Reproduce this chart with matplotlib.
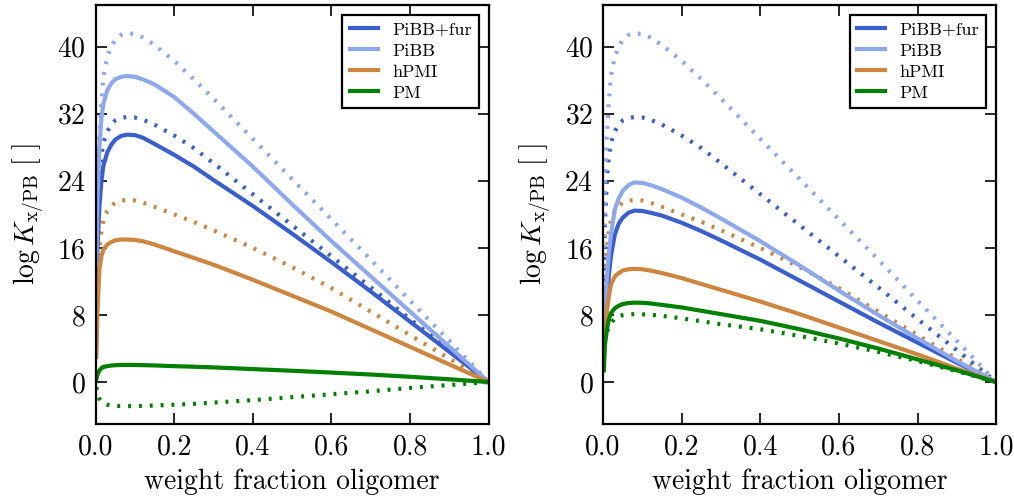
import numpy as np
import matplotlib
matplotlib.use("Agg")
import matplotlib.pyplot as plt

plt.rcParams['font.family'] = 'cmr10'
plt.rcParams['mathtext.fontset'] = 'cm'
plt.rcParams['axes.formatter.use_mathtext'] = True

# weight fraction grid
w = [0.002, 0.005, 0.01, 0.015, 0.02, 0.03, 0.04, 0.05, 0.065, 0.08, 0.1, 0.12,
     0.15, 0.2, 0.25, 0.3, 0.4, 0.5, 0.6, 0.7, 0.8, 0.9, 1.0]

# dotted curves (same in both panels)
pibbfur_dot = [12, 19, 24.5, 27, 28.5, 29.9, 30.7, 31.2, 31.5, 31.6, 31.55, 31.3,
               30.7, 29.4, 27.9, 26.1, 22.4, 18.7, 15.0, 11.3, 7.5, 3.8, 0]
pibb_dot = [16, 24, 29.5, 33.5, 36.5, 38.8, 40.0, 40.8, 41.4, 41.6, 41.5, 41.1,
            40.2, 38.3, 36.1, 33.8, 29.0, 24.2, 19.4, 14.6, 9.7, 4.9, 0]
hpmi_dot = [6, 12, 16, 18, 19.3, 20.4, 21.0, 21.4, 21.65, 21.7, 21.65, 21.4,
            20.9, 20.0, 19.1, 18.1, 16.0, 13.7, 11.2, 8.4, 5.6, 2.8, 0]

# left panel
pibbfur_a = [11, 16, 21, 24, 25.8, 27.4, 28.3, 28.9, 29.35, 29.5, 29.45, 29.15,
             28.4, 27.1, 25.7, 24.1, 21.0, 17.7, 14.3, 10.8, 7.2, 3.6, 0]
pibb_a = [14, 22, 28, 31.5, 33.2, 34.8, 35.6, 36.1, 36.4, 36.5, 36.4, 36.1,
          35.5, 34.0, 32.0, 29.9, 25.7, 21.2, 16.8, 12.6, 8.4, 4.2, 0]
hpmi_a = [3, 8.5, 13.5, 15.0, 15.8, 16.4, 16.7, 16.9, 17.0, 17.0, 16.95, 16.8,
          16.4, 15.6, 14.8, 14.0, 12.2, 10.3, 8.4, 6.3, 4.2, 2.1, 0]
pm_a = [0.3, 0.9, 1.4, 1.65, 1.8, 1.9, 1.97, 2.01, 2.04, 2.05, 2.04, 2.02,
        1.98, 1.9, 1.83, 1.75, 1.55, 1.35, 1.13, 0.9, 0.63, 0.33, 0]
pm_dot_a = [-0.6, -1.4, -2.0, -2.35, -2.55, -2.7, -2.78, -2.83, -2.86, -2.87, -2.86, -2.84,
            -2.8, -2.7, -2.6, -2.45, -2.15, -1.8, -1.45, -1.1, -0.7, -0.35, 0]

# right panel
pibbfur_b = [4, 8, 10, 12.8, 15.0, 17.6, 18.9, 19.6, 20.2, 20.45, 20.4, 20.2,
             19.85, 19.0, 18.0, 16.9, 14.6, 12.1, 9.6, 7.1, 4.7, 2.3, 0]
pibb_b = [5, 9, 12.5, 15.5, 17.5, 20.6, 21.9, 22.8, 23.5, 23.8, 23.75, 23.5,
          23.0, 22.0, 20.8, 19.5, 16.8, 13.9, 10.9, 8.0, 5.2, 2.5, 0]
hpmi_b = [3.5, 6, 8.5, 10.3, 11.6, 12.6, 13.0, 13.3, 13.45, 13.5, 13.45, 13.3,
          13.0, 12.4, 11.7, 11.0, 9.6, 8.1, 6.5, 4.9, 3.3, 1.6, 0]
pm_b = [1.4, 4.5, 6.3, 7.5, 8.2, 8.8, 9.1, 9.3, 9.43, 9.47, 9.45, 9.38,
        9.2, 8.9, 8.5, 8.1, 7.3, 6.3, 5.2, 4.0, 2.7, 1.4, 0]
pm_dot_b = [3.5, 5.0, 6.0, 6.6, 7.0, 7.6, 7.85, 7.98, 8.07, 8.1, 8.08, 8.03,
            7.9, 7.6, 7.25, 6.9, 6.3, 5.5, 4.6, 3.6, 2.5, 1.3, 0]

labels = ['PiBB+fur', 'PiBB', 'hPMI', 'PM']
colors = ['#3a5fcd', '#8ea8ec', '#cd853f', '#008000']

panels = [
    ([pibbfur_a, pibb_a, hpmi_a, pm_a], [pibbfur_dot, pibb_dot, hpmi_dot, pm_dot_a]),
    ([pibbfur_b, pibb_b, hpmi_b, pm_b], [pibbfur_dot, pibb_dot, hpmi_dot, pm_dot_b]),
]

fig = plt.figure(figsize=(10.14, 5.0), dpi=100)
lefts = [0.0942, 0.5947]
dots = (0, (0.7, 1.9))

for left, (solid, dotted) in zip(lefts, panels):
    ax = fig.add_axes([left, 0.152, 0.3878, 0.8386])
    for ys, c in zip(dotted, colors):
        ax.plot(w, ys, color=c, lw=3, linestyle=dots)
    for ys, c, lab in zip(solid, colors, labels):
        ax.plot(w, ys, color=c, lw=3, label=lab)
    ax.set_xlim(0, 1)
    ax.set_ylim(-5, 45)
    ax.set_xticks([0.0, 0.2, 0.4, 0.6, 0.8, 1.0])
    ax.set_yticks([0, 8, 16, 24, 32, 40])
    ax.xaxis.set_major_formatter(matplotlib.ticker.FormatStrFormatter('%.1f'))
    ax.tick_params(direction='in', length=8, width=1.2, top=True, right=True,
                   labelsize=20, pad=7)
    for s in ax.spines.values():
        s.set_linewidth(1.6)
    ax.set_xlabel('weight fraction oligomer', fontsize=20, labelpad=6)
    ax.set_ylabel(r'$\log K_{\mathrm{x/PB}}\ [\ ]$', fontsize=20, labelpad=8)
    leg = ax.legend(loc='upper right', fontsize=13, handlelength=1.55,
                    handletextpad=0.8, labelspacing=0.3, borderaxespad=0.55,
                    borderpad=0.4, fancybox=False, framealpha=1)
    leg.get_frame().set_edgecolor('black')
    leg.get_frame().set_linewidth(1.6)

fig.savefig('out.png', dpi=100)
